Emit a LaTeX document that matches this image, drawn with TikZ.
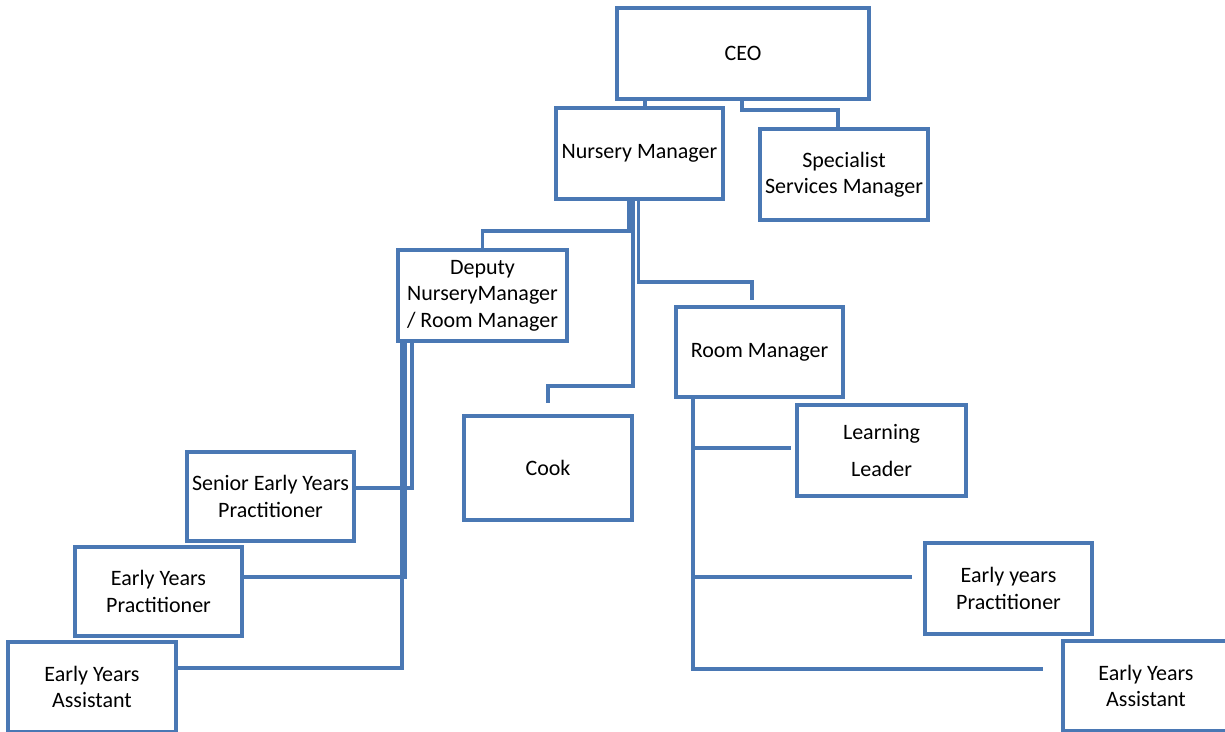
\documentclass[tikz,border=0pt]{standalone}
\usepackage{fontspec}
\setmainfont{Carlito}
\definecolor{boxblue}{HTML}{4A78B4}
\begin{document}
\begin{tikzpicture}[x=1pt,y=-1pt,
  box/.style={draw=boxblue,line width=3.4pt,fill=white,inner sep=0pt,align=center,
    font=\fontsize{22}{26.5}\selectfont,text=black},
  link/.style={draw=boxblue,line width=3.2pt}]
\useasboundingbox[fill=white] (0,0) rectangle (1225,731);
% nodes
\node[box,minimum width=252,minimum height=91] (ceo) at (743,53.5) {CEO};
\node[box,minimum width=167,minimum height=91] (nm) at (639.5,153.5) {Nursery Manager};
\node[box,minimum width=168,minimum height=91] (ssm) at (844,174.5) {Specialist\\Services Manager};
\node[box,minimum width=169,minimum height=91] (dep) at (482.5,295.5) {Deputy\\NurseryManager\\/ Room Manager};
\node[box,minimum width=168,minimum height=104] (cook) at (548,468) {Cook};
\node[box,minimum width=167,minimum height=90] (rm) at (759.5,352) {Room Manager};
\node[box,minimum width=169,minimum height=91] (ll) at (881.5,450.5) {Learning\\[11pt]Leader};
\node[box,minimum width=167,minimum height=89] (sen) at (270.5,496.5) {Senior Early Years\\Practitioner};
\node[box,minimum width=167,minimum height=89] (eyp) at (158.5,591.5) {Early Years\\Practitioner};
\node[box,minimum width=168,minimum height=90] (eya) at (92,687) {Early Years\\Assistant};
\node[box,minimum width=167,minimum height=91] (eyp2) at (1008.5,588.5) {Early years\\Practitioner};
\node[box,minimum width=166,minimum height=90] (eya2) at (1146,686) {Early Years\\Assistant};
% bend points
\coordinate (k1) at (645,0);
\coordinate (k2) at (742,110);
\coordinate (k3) at (838,110);
\coordinate (k4) at (629,231);
\coordinate (k5) at (633,386);
\coordinate (k6) at (548,403);
\coordinate (k7) at (638.5,282);
\coordinate (k8) at (752,300);
\coordinate (d1) at (412,488);
\coordinate (d2) at (405.5,577);
\coordinate (d3) at (402,668);
\coordinate (r1) at (693,448);
\coordinate (r1e) at (791,448);
\coordinate (r2) at (693,577);
\coordinate (r2e) at (912,577);
\coordinate (r3) at (693,669);
\coordinate (r3e) at (1043,669);
% connectors
\draw[link] (ceo.south -| k1) -- (nm.north -| k1);
\draw[link] (ceo.south -| k2) -- (k2) -- (k3) -- (ssm.north -| k3);
\draw[link] (nm.south -| k4) -- (k4) -| (dep.north);
\draw[link] (nm.south -| k5) -- (k5) -| (k6);
\draw[link] (nm.south -| k7) -- (k7) -| (k8);
\draw[link] (dep.south -| d1) -- (d1) -- (sen.east |- d1);
\draw[link] (dep.south -| d2) -- (d2) -- (eyp.east |- d2);
\draw[link] (dep.south -| d3) -- (d3) -- (eya.east |- d3);
\draw[link] (rm.south -| r3) -- (r3) -- (r3e);
\draw[link] (r1) -- (r1e);
\draw[link] (r2) -- (r2e);
\end{tikzpicture}
\end{document}
